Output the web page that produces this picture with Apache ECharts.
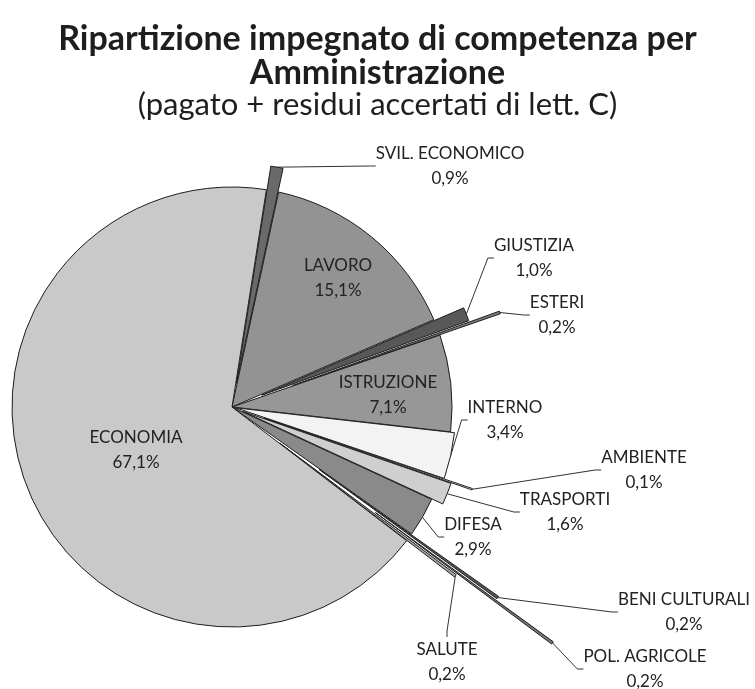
<!DOCTYPE html>
<html lang="it">
<head>
    <meta charset="UTF-8">
    <title>Ripartizione impegnato di competenza per Amministrazione</title>
    <script src="https://cdn.jsdelivr.net/npm/echarts@6/dist/echarts.min.js"></script>
    <style>
        html, body {
            margin: 0;
            padding: 0;
            background: #ffffff;
        }
        #main {
            width: 755px;
            height: 689px;
        }
    </style>
</head>
<body>
<div id="main"></div>

<script>
    // dati (percentuali, in senso orario dall'alto)
    const names = ['SVIL. ECONOMICO', 'LAVORO', 'GIUSTIZIA', 'ESTERI', 'ISTRUZIONE', 'INTERNO',
        'AMBIENTE', 'TRASPORTI', 'DIFESA', 'BENI CULTURALI', 'POL. AGRICOLE', 'SALUTE', 'ECONOMIA'];
    const shares = [0.9, 15.1, 1.0, 0.2, 7.1, 3.4, 0.1, 1.6, 2.9, 0.2, 0.2, 0.2, 67.1];

    // stile: colori, esplosione delle fette (px), posizione delle etichette
    const colors = ['#6a6a6a', '#939393', '#585858', '#7c7c7c', '#979797', '#f3f3f3',
        '#ffffff', '#cfcfcf', '#8a8a8a', '#555555', '#777777', '#aaaaaa', '#c9c9c9'];
    const explode = [24, 0, 32, 64, 0, 4, 34, 12, 0, 107, 178, 60, 0];
    const insideLabel = [false, true, false, false, true, false, false, false, false, false, false, false, true];
    const labelPos = [
        [450, 166], [338, 278], [534, 258], [557, 315], [388, 395], [505, 420], [644, 470],
        [565, 512], [473, 537], [684, 612], [645, 669], [447, 662], [136, 450]
    ];

    const CX = 232, CY = 407, R = 220;
    const START = 81; // gradi, antiorario da ore 3 (= 9 gradi dopo ore 12)
    const FONT = 'Lato, "Open Sans", sans-serif';

    const chart = echarts.init(document.getElementById('main'), null, {renderer: 'canvas'});

    function fmt(v) {
        return v.toFixed(1).replace('.', ',') + '%';
    }

    const total = shares.reduce((a, b) => a + b, 0);

    // una serie per fetta: il centro si sposta lungo la bisettrice della fetta (esplosione)
    let acc = 0;
    const series = names.map(function (own, i) {
        const mid = (90 - START) + (acc + shares[i] / 2) / total * 360;
        acc += shares[i];
        const rad = mid * Math.PI / 180;
        const cx = CX + explode[i] * Math.sin(rad);
        const cy = CY - explode[i] * Math.cos(rad);
        return {
            type: 'pie',
            center: [cx, cy],
            radius: [0, R],
            startAngle: START,
            clockwise: true,
            silent: true,
            animation: false,
            avoidLabelOverlap: false,
            emphasis: {disabled: true},
            z: 2 + i,
            labelLayout: function (p) {
                if (p.dataIndex !== i) return {};
                return {
                    x: labelPos[i][0],
                    y: labelPos[i][1],
                    align: 'center',
                    verticalAlign: 'middle'
                };
            },
            labelLine: {
                length: 10,
                length2: 6,
                lineStyle: {color: '#333333', width: 1}
            },
            data: names.map(function (n, j) {
                const mine = j === i;
                return {
                    name: n,
                    value: shares[j],
                    itemStyle: mine
                        ? {color: colors[j], borderColor: '#1e1e1e', borderWidth: 1}
                        : {color: 'rgba(0,0,0,0)', borderWidth: 0},
                    label: {
                        show: mine,
                        position: insideLabel[j] ? 'inside' : 'outside',
                        formatter: function (p) {
                            return p.name + '\n' + fmt(p.value);
                        },
                        fontFamily: FONT,
                        fontSize: 17,
                        lineHeight: 25,
                        color: '#222222',
                        align: 'center'
                    },
                    labelLine: {show: mine && !insideLabel[j]}
                };
            })
        };
    });

    chart.setOption({
        backgroundColor: '#ffffff',
        animation: false,
        title: {
            text: 'Ripartizione impegnato di competenza per\nAmministrazione',
            subtext: '(pagato + residui accertati di lett. C)',
            left: 'center',
            top: 17,
            itemGap: 0,
            textStyle: {
                fontFamily: FONT,
                fontWeight: 'bold',
                fontSize: 34,
                lineHeight: 34,
                color: '#1e1e1e'
            },
            subtextStyle: {
                fontFamily: FONT,
                fontSize: 31,
                lineHeight: 30,
                color: '#1e1e1e'
            }
        },
        series: series
    });
</script>
</body>
</html>
